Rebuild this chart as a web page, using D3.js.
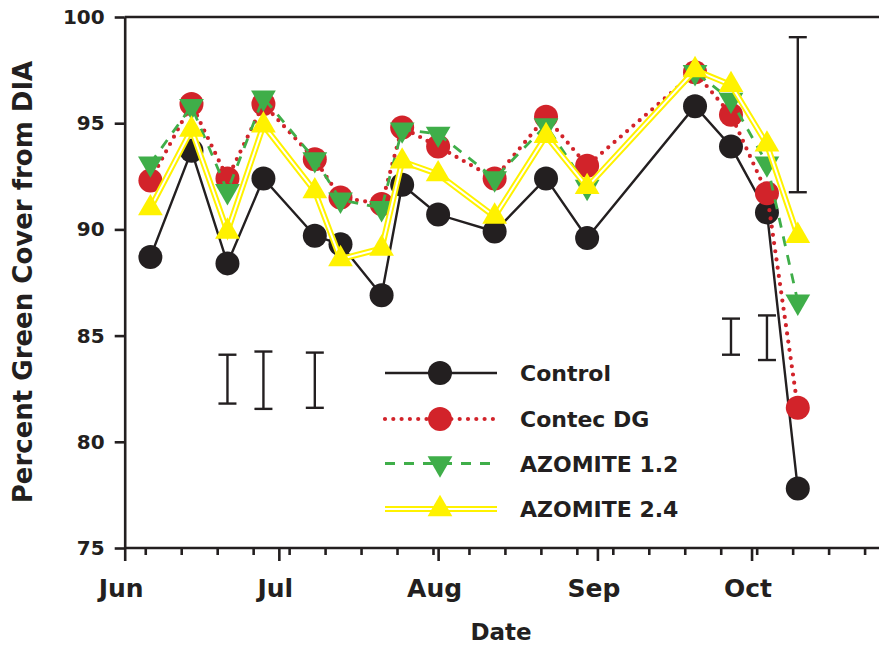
<!DOCTYPE html>
<html>
<head>
<meta charset="utf-8">
<script src="https://cdn.jsdelivr.net/npm/d3@7"></script>
<style>
  html, body { margin: 0; padding: 0; background: #fff; }
  svg { display: block; }
  text { font-family: "DejaVu Sans", sans-serif; font-weight: 700; fill: #231f20; }
</style>
</head>
<body>
<svg id="chart" width="879" height="646"></svg>
<script>
// sampling dates and mean percent green cover
const dates = ["2015-06-06", "2015-06-14", "2015-06-21", "2015-06-28", "2015-07-08", "2015-07-13",
  "2015-07-21", "2015-07-25", "2015-08-01", "2015-08-12", "2015-08-22", "2015-08-30",
  "2015-09-20", "2015-09-27", "2015-10-04", "2015-10-10"];
const control = [88.7, 93.7, 88.4, 92.4, 89.7, 89.3, 86.9, 92.1, 90.7, 89.9, 92.4, 89.6, 95.8, 93.9, 90.8, 77.8];
const contecDG = [92.3, 95.9, 92.4, 95.9, 93.3, 91.5, 91.2, 94.8, 93.9, 92.4, 95.3, 93.0, 97.4, 95.4, 91.7, 81.6];
const azomite12 = [93.1, 95.8, 91.8, 96.2, 93.3, 91.4, 91.0, 94.7, 94.5, 92.4, 94.9, 92.0, 97.4, 96.1, 93.1, 86.6];
const azomite24 = [91.0, 94.7, 89.9, 94.9, 91.8, 88.6, 89.1, 93.2, 92.6, 90.6, 94.4, 92.0, 97.5, 96.8, 94.0, 89.7];

// LSD bars
const lsdDates = ["2015-06-21", "2015-06-28", "2015-07-08", "2015-09-27", "2015-10-04", "2015-10-10"];
const lsdLow = [81.8, 81.55, 81.6, 84.1, 83.85, 91.75];
const lsdHigh = [84.1, 84.25, 84.2, 85.8, 85.95, 99.05];

const yTicks = [75, 80, 85, 90, 95, 100];
const monthTicks = ["2015-06-01", "2015-07-01", "2015-08-01", "2015-09-01", "2015-10-01"];
const seriesNames = ["Control", "Contec DG", "AZOMITE 1.2", "AZOMITE 2.4"];

const ink = "#231f20";
const parse = d3.utcParse("%Y-%m-%d");
const svg = d3.select("#chart");

const x = d3.scaleUtc()
  .domain([parse("2015-06-01"), parse("2015-10-26")])
  .range([124.7, 880]);
const y = d3.scaleLinear().domain([75, 100]).range([548, 17]);

// top frame line
svg.append("line")
  .attr("x1", x.range()[0]).attr("x2", 879)
  .attr("y1", y(100)).attr("y2", y(100))
  .attr("stroke", ink).attr("stroke-width", 2.6);

// weekly minor ticks
const weeks = d3.utcFriday.range(parse("2015-06-02"), parse("2015-10-26"));
svg.append("g")
  .attr("transform", `translate(0,${y(75)})`)
  .call(d3.axisBottom(x).tickValues(weeks).tickSize(7).tickSizeOuter(0).tickFormat(""))
  .call((g) => g.select(".domain").attr("d", `M${x.range()[0]},0H879`))
  .call((g) => g.selectAll("line, path").attr("stroke", ink).attr("stroke-width", 2.6));

// month ticks + labels
svg.append("g")
  .attr("transform", `translate(0,${y(75)})`)
  .call(d3.axisBottom(x).tickValues(monthTicks.map(parse)).tickSize(13).tickSizeOuter(0)
    .tickFormat(d3.utcFormat("%b")))
  .call((g) => g.select(".domain").remove())
  .call((g) => g.selectAll("line").attr("stroke", ink).attr("stroke-width", 2.6))
  .call((g) => g.selectAll("text")
    .attr("y", 49).attr("dy", null).attr("dx", -4)
    .attr("font-size", 25).attr("fill", ink)
    .attr("font-family", "DejaVu Sans"));

// y axis
svg.append("g")
  .attr("transform", `translate(${x.range()[0]},0)`)
  .call(d3.axisLeft(y).tickValues(yTicks).tickSize(10).tickPadding(10).tickSizeOuter(0))
  .call((g) => g.selectAll("line, path").attr("stroke", ink).attr("stroke-width", 2.6))
  .call((g) => g.selectAll("text").attr("font-size", 20).attr("fill", ink)
    .attr("font-family", "DejaVu Sans"));

svg.append("text")
  .attr("transform", "translate(32,282) rotate(-90)")
  .attr("text-anchor", "middle")
  .attr("font-size", 26)
  .text("Percent Green Cover from DIA");

svg.append("text")
  .attr("x", 501).attr("y", 640)
  .attr("text-anchor", "middle")
  .attr("font-size", 23)
  .text("Date");

// LSD bars
const lsd = svg.append("g").attr("stroke", ink).attr("stroke-width", 2.4);
lsdDates.forEach((d, i) => {
  const cx = x(parse(d));
  lsd.append("line").attr("x1", cx).attr("x2", cx).attr("y1", y(lsdLow[i])).attr("y2", y(lsdHigh[i]));
  [lsdLow[i], lsdHigh[i]].forEach((v) => {
    lsd.append("line").attr("x1", cx - 9).attr("x2", cx + 9).attr("y1", y(v)).attr("y2", y(v));
  });
});

const circle = d3.symbol().type(d3.symbolCircle).size(Math.PI * 12 * 12);
const tri = d3.symbol().type(d3.symbolTriangle).size(265);

const styles = [
  { values: control, color: ink, marker: "circle", strokes: [{ width: 2.4, color: ink }] },
  { values: contecDG, color: "#d2232a", marker: "circle",
    strokes: [{ width: 4.2, color: "#d2232a", dash: "0 8.3", cap: "round" }] },
  { values: azomite12, color: "#3fae49", marker: "down",
    strokes: [{ width: 2.8, color: "#3fae49", dash: "10 9" }] },
  { values: azomite24, color: "#fff200", marker: "up",
    strokes: [{ width: 6, color: "#fff200" }, { width: 2, color: "#ffffff" }] },
];

function drawMarker(g, kind, color, px, py) {
  const path = g.append("path").attr("fill", color);
  if (kind === "circle") {
    path.attr("d", circle()).attr("transform", `translate(${px},${py})`);
  } else if (kind === "up") {
    path.attr("d", tri()).attr("transform", `translate(${px},${py})`);
  } else {
    path.attr("d", tri()).attr("transform", `translate(${px},${py}) rotate(180)`);
  }
}

const line = d3.line().x((d) => x(d[0])).y((d) => y(d[1]));

styles.forEach((s) => {
  const pts = dates.map((d, i) => [parse(d), s.values[i]]);
  const g = svg.append("g");
  s.strokes.forEach((st) => {
    g.append("path")
      .attr("d", line(pts))
      .attr("fill", "none")
      .attr("stroke", st.color)
      .attr("stroke-width", st.width)
      .attr("stroke-dasharray", st.dash || null)
      .attr("stroke-linecap", st.cap || "butt")
      .attr("stroke-linejoin", "miter");
  });
  pts.forEach((p) => drawMarker(g, s.marker, s.color, x(p[0]), y(p[1])));
});

// legend
const legendRows = [373, 419, 463.5, 509];
styles.forEach((s, i) => {
  const g = svg.append("g");
  const ly = legendRows[i];
  s.strokes.forEach((st) => {
    g.append("line")
      .attr("x1", 385).attr("x2", 497).attr("y1", ly).attr("y2", ly)
      .attr("stroke", st.color)
      .attr("stroke-width", st.width)
      .attr("stroke-dasharray", st.dash || null)
      .attr("stroke-linecap", st.cap || "butt");
  });
  drawMarker(g, s.marker, s.color, 440, ly);
  g.append("text")
    .attr("x", 520).attr("y", ly + 8)
    .attr("font-size", 22)
    .text(seriesNames[i]);
});
</script>
</body>
</html>
